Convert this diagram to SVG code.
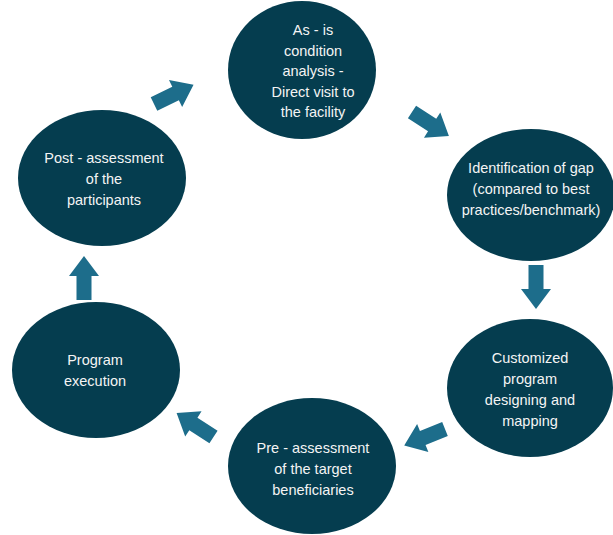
<svg xmlns="http://www.w3.org/2000/svg" xmlns:xlink="http://www.w3.org/1999/xlink" width="613" height="535" viewBox="0 0 613 535">
<style>
.node{fill:#053d4f}
.lbl{font-family:"Liberation Sans",Arial,sans-serif;font-size:14.5px;fill:#f4f4f4;text-anchor:middle}
.arr{fill:#1d6d8b}
</style>
<defs>
<path id="blk" d="M0,-7.5 H24 V-15 L44,0 L24,15 V7.5 H0 Z"/>
</defs>
<rect width="613" height="535" fill="#ffffff"/>
<g id="connectors" class="arr">
<use xlink:href="#blk" transform="translate(154,104) rotate(-26)"/>
<use xlink:href="#blk" transform="translate(412,112) rotate(33)"/>
<use xlink:href="#blk" transform="translate(536,265) rotate(90)"/>
<use xlink:href="#blk" transform="translate(445,429) rotate(158)"/>
<use xlink:href="#blk" transform="translate(213.5,437) rotate(213)"/>
<use xlink:href="#blk" transform="translate(84,300) rotate(-90)"/>
</g>
<g id="n1">
<ellipse class="node" cx="302" cy="70" rx="74" ry="69"/>
<text class="lbl"><tspan x="313" y="35">As - is</tspan><tspan x="313" y="56">condition</tspan><tspan x="313" y="76">analysis -</tspan><tspan x="313" y="97">Direct visit to</tspan><tspan x="313" y="117">the facility</tspan></text>
</g>
<g id="n2">
<ellipse class="node" cx="531" cy="195" rx="84" ry="66"/>
<text class="lbl"><tspan x="531" y="173">Identification of gap</tspan><tspan x="531" y="194">(compared to best</tspan><tspan x="531" y="215">practices/benchmark)</tspan></text>
</g>
<g id="n3">
<ellipse class="node" cx="530" cy="388" rx="83" ry="69"/>
<text class="lbl"><tspan x="530" y="363">Customized</tspan><tspan x="530" y="384">program</tspan><tspan x="530" y="405">designing and</tspan><tspan x="530" y="426">mapping</tspan></text>
</g>
<g id="n4">
<ellipse class="node" cx="312" cy="466" rx="84" ry="68"/>
<text class="lbl"><tspan x="313" y="453">Pre - assessment</tspan><tspan x="313" y="474">of the target</tspan><tspan x="313" y="495">beneficiaries</tspan></text>
</g>
<g id="n5">
<ellipse class="node" cx="96" cy="370" rx="84" ry="68"/>
<text class="lbl"><tspan x="95" y="365">Program</tspan><tspan x="95" y="386">execution</tspan></text>
</g>
<g id="n6">
<ellipse class="node" cx="102" cy="178" rx="84" ry="68"/>
<text class="lbl"><tspan x="104" y="163">Post - assessment</tspan><tspan x="104" y="184">of the</tspan><tspan x="104" y="205">participants</tspan></text>
</g>
</svg>
